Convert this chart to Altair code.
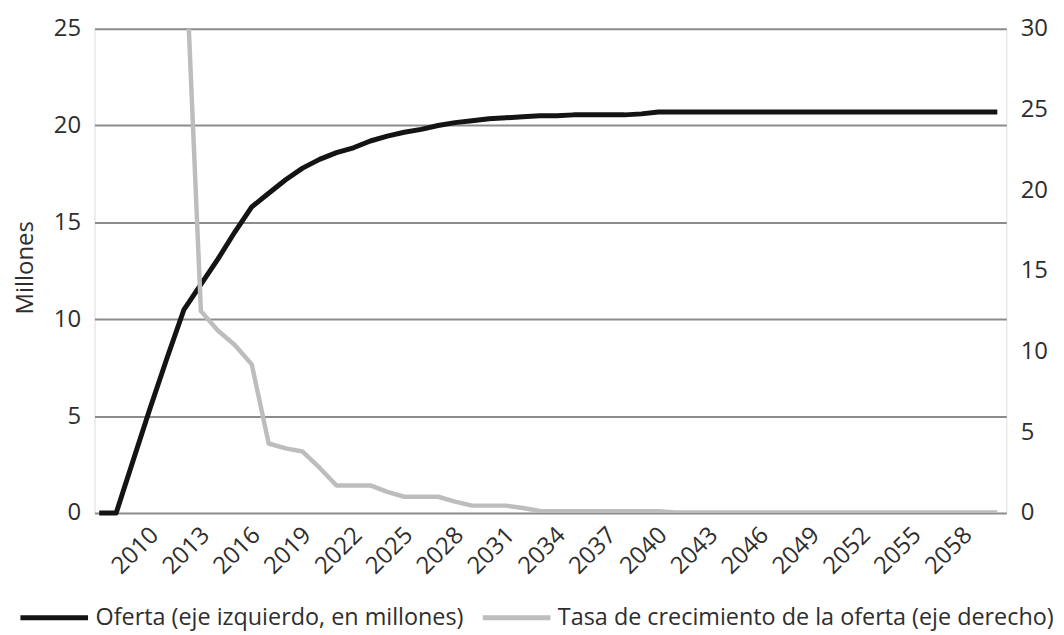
import altair as alt
import pandas as pd

years = [2007, 2008, 2009, 2010, 2011, 2012, 2013, 2014, 2015, 2016,
         2017, 2018, 2019, 2020, 2021, 2022, 2023, 2024, 2025, 2026,
         2027, 2028, 2029, 2030, 2031, 2032, 2033, 2034, 2035, 2036,
         2037, 2038, 2039, 2040, 2041, 2042, 2043, 2044, 2045, 2046,
         2047, 2048, 2049, 2050, 2051, 2052, 2053, 2054, 2055, 2056,
         2057, 2058, 2059, 2060]

oferta = [0.0, 0.0, 2.7, 5.4, 8.0, 10.5, 11.8, 13.1, 14.5, 15.8,
          16.5, 17.2, 17.8, 18.25, 18.6, 18.85, 19.2, 19.45, 19.65, 19.8,
          20.0, 20.15, 20.25, 20.35, 20.4, 20.45, 20.5, 20.5, 20.55, 20.55,
          20.55, 20.55, 20.6, 20.7, 20.7, 20.7, 20.7, 20.7, 20.7, 20.7,
          20.7, 20.7, 20.7, 20.7, 20.7, 20.7, 20.7, 20.7, 20.7, 20.7,
          20.7, 20.7, 20.7, 20.7]

tasa = [None, None, None, None, None, 37.0, 12.5, 11.3, 10.4, 9.2,
        4.3, 4.0, 3.8, 2.8, 1.7, 1.7, 1.7, 1.3, 1.0, 1.0,
        1.0, 0.7, 0.45, 0.45, 0.45, 0.3, 0.12, 0.1, 0.1, 0.1,
        0.1, 0.1, 0.1, 0.1, 0.03, 0.03, 0.03, 0.03, 0.03, 0.03,
        0.03, 0.03, 0.03, 0.03, 0.03, 0.03, 0.03, 0.03, 0.03, 0.03,
        0.03, 0.03, 0.03, 0.03]

x_labels = [2010, 2013, 2016, 2019, 2022, 2025, 2028, 2031, 2034, 2037,
            2040, 2043, 2046, 2049, 2052, 2055, 2058]
left_ticks = [0, 5, 10, 15, 20, 25]
right_ticks = [0, 5, 10, 15, 20, 25, 30]

serie_a = "Oferta (eje izquierdo, en millones)"
serie_b = "Tasa de crecimiento de la oferta (eje derecho)"

df_a = pd.DataFrame({"year": years, "value": oferta, "serie": serie_a})
df_b = pd.DataFrame({"year": years, "value": tasa, "serie": serie_b}).dropna()

FONT = "Open Sans"
FS = 24
TXT = "#2e2e2e"

color = alt.Color(
    "serie:N",
    scale=alt.Scale(domain=[serie_a, serie_b], range=["#141414", "#bdbdbd"]),
    legend=alt.Legend(
        title=None, orient="none", direction="horizontal",
        legendX=-77, legendY=556,
        symbolType="stroke", symbolSize=4624, symbolStrokeWidth=5,
        labelFontSize=23.5, labelFont=FONT, labelColor=TXT,
        labelOffset=5, columnPadding=8, labelLimit=700,
    ),
)

xenc = alt.X(
    "year:Q",
    scale=alt.Scale(domain=[2006.72, 2060.53], nice=False, zero=False),
    axis=alt.Axis(
        values=x_labels, format="d", labelAngle=-45, labelAlign="right",
        labelBaseline="top", labelPadding=10, labelOffset=-4,
        labelOverlap=False, ticks=False, tickSize=0,
        domain=False, grid=False, title=None, labelFontSize=FS,
        labelFont=FONT, labelColor=TXT,
    ),
)

line_a = alt.Chart(df_a).mark_line(strokeWidth=5, strokeJoin="round").encode(
    x=xenc,
    y=alt.Y(
        "value:Q",
        scale=alt.Scale(domain=[0, 25], nice=False),
        axis=alt.Axis(
            values=left_ticks, orient="left", grid=True, gridColor="#8c8c8c",
            gridWidth=2, domain=False, ticks=False, tickSize=0,
            labelPadding=14, labelFontSize=FS, labelFont=FONT, labelColor=TXT,
            title="Millones", titleFontSize=FS, titleFont=FONT,
            titleFontWeight="normal", titleColor=TXT, titleAngle=-90,
            titleX=-69, titleY=240, titleAlign="center", titleBaseline="middle",
        ),
    ),
    color=color,
)

line_b = alt.Chart(df_b).mark_line(strokeWidth=4.5, strokeJoin="round", clip=True).encode(
    x=xenc,
    y=alt.Y(
        "value:Q",
        scale=alt.Scale(domain=[0, 30], nice=False),
        axis=alt.Axis(
            values=right_ticks, orient="right", grid=False, domain=False,
            ticks=False, tickSize=0, labelPadding=14, labelFontSize=FS,
            labelFont=FONT, labelColor=TXT, title=None,
        ),
    ),
    color=color,
)

chart = (
    alt.layer(line_a, line_b)
    .resolve_scale(y="independent")
    .properties(
        width=917, height=487,
        autosize=alt.AutoSizeParams(type="none"),
        padding={"left": 87, "top": 19, "right": 50, "bottom": 118},
    )
    .configure_view(stroke=None)
    .configure(font=FONT, background="white")
)

chart.save("out.html", embed_options={"renderer": "svg", "actions": False})
